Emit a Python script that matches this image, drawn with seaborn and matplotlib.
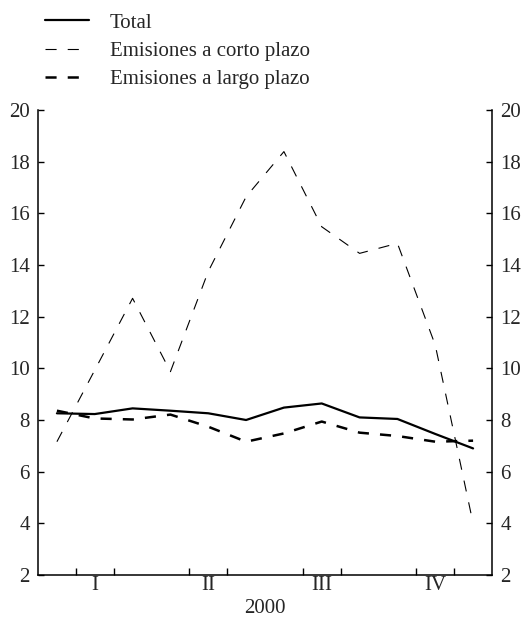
import numpy as np
import pandas as pd
import seaborn as sns
import matplotlib.pyplot as plt

months = np.arange(1, 13)
total = [8.26, 8.23, 8.45, 8.36, 8.26, 8.00, 8.48, 8.64, 8.10, 8.04, 7.46, 6.90]
corto = [7.16, 9.93, 12.71, 9.87, 13.75, 16.64, 18.39, 15.48, 14.45, 14.84, 10.90, 4.00]
largo = [8.36, 8.06, 8.02, 8.21, 7.74, 7.16, 7.48, 7.94, 7.51, 7.38, 7.16, 7.20]
quarters = ['I', 'II', 'III', 'IV']
year = '2000'
yticks = list(range(2, 21, 2))

sns.set_style('white')
plt.rcParams['font.family'] = ['Liberation Serif', 'DejaVu Serif']
plt.rcParams['lines.scale_dashes'] = False
fs = 15

data = pd.DataFrame({'mes': months - 0.5, 'Total': total,
                     'Emisiones a corto plazo': corto,
                     'Emisiones a largo plazo': largo})

fig = plt.figure(figsize=(5.23, 6.2), dpi=100)
ax = fig.add_axes([38 / 523, 1 - 575 / 620, 454 / 523, 465 / 620])

sns.lineplot(data, x='mes', y='Total', ax=ax, color='black', lw=1.6,
             label='Total')
sns.lineplot(data, x='mes', y='Emisiones a corto plazo', ax=ax, color='black',
             lw=0.8, dashes=(8, 8), label='Emisiones a corto plazo')
sns.lineplot(data, x='mes', y='Emisiones a largo plazo', ax=ax, color='black',
             lw=1.8, dashes=(8, 8), label='Emisiones a largo plazo')

ax.set_xlim(0, 12)
ax.set_ylim(2, 20)
ax.set_yticks(yticks)
ax.set_xticks([3, 6, 9])
ax.set_xticks([1, 2, 4, 5, 7, 8, 10, 11], minor=True)
ax.set_xticklabels([])
ax.tick_params(axis='x', which='major', direction='in', length=8, width=1, color='black')
ax.tick_params(axis='x', which='minor', direction='in', length=5, width=1, color='black', bottom=True)
ax.tick_params(axis='y', direction='in', length=4, width=1, color='black',
               left=True, right=True, labelright=True, labelsize=fs, pad=6)

for i, q in enumerate(quarters):
    ax.text(3 * i + 1.5, -0.002, q, transform=ax.get_xaxis_transform(),
            ha='center', va='top', fontsize=fs)
ax.set_xlabel('')
ax.set_ylabel('')
fig.text((38 + 227) / 523, 1 - 613 / 620, year, ha='center', va='baseline',
         fontsize=fs)

for s in ['left', 'right', 'bottom']:
    ax.spines[s].set_visible(True)
    ax.spines[s].set_color('black')
    ax.spines[s].set_linewidth(1.1)
ax.spines['top'].set_visible(False)

ax.legend(loc='upper left', bbox_to_anchor=(45 / 523, 1 - 13 / 620),
          bbox_transform=fig.transFigure, frameon=False, fontsize=fs,
          handlelength=2.1, handletextpad=1.0, labelspacing=0.42,
          borderaxespad=0, borderpad=0)

fig.savefig('out.png', dpi=100)
